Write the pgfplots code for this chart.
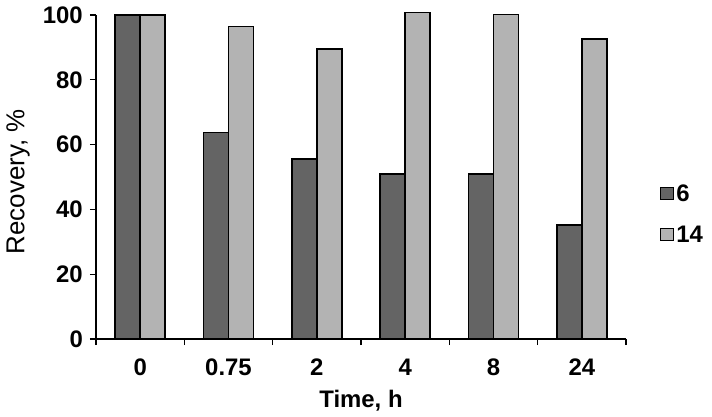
\documentclass[border=0pt]{standalone}
\usepackage{fontspec}
\setmainfont{Liberation Sans}
\usepackage{pgfplots}
\pgfplotsset{compat=1.18}
\definecolor{darkbar}{RGB}{100,100,100}
\definecolor{lightbar}{RGB}{179,179,179}
\begin{document}
\begin{tikzpicture}
\path[use as bounding box] (-96bp,-78bp) rectangle (616bp,339bp);
\begin{axis}[
  at={(0,0)}, anchor=south west,
  scale only axis,
  width=530bp, height=324bp,
  ybar=0pt, bar width=25bp,
  xmin=-0.5, xmax=5.5,
  ymin=0, ymax=100,
  clip=false,
  axis lines*=left,
  axis line style={line width=1.3bp},
  xtick={0,1,2,3,4,5},
  xticklabels={0,0.75,2,4,8,24},
  major x tick style={draw=none},
  minor xtick={-0.5,0.5,1.5,2.5,3.5,4.5,5.5},
  ytick={0,20,40,60,80,100},
  tick align=outside,
  major tick length=6bp, minor tick length=6bp,
  every tick/.style={black, line width=1.3bp},
  /pgf/number format/assume math mode=true,
  tick label style={font=\fontsize{24}{28}\selectfont\bfseries},
  xticklabel style={anchor=center, yshift=-22bp},
  yticklabel style={anchor=east, inner sep=0pt, xshift=-7bp},
  xlabel={Time, h},
  ylabel={Recovery, \%},
  xlabel style={font=\fontsize{24}{28}\selectfont\bfseries, at={(axis description cs:0.5,-0.19)}, anchor=center},
  ylabel style={font=\fontsize{26}{28}\selectfont, at={(axis description cs:-0.147,0.485)}, anchor=center, rotate=0},
  legend style={draw=none, fill=none, at={(axis description cs:1.064,0.385)}, anchor=west,
    font=\fontsize{24}{28}\selectfont\bfseries, row sep=19bp, inner sep=0pt},
  legend cell align=left,
  legend image code/.code={\draw[#1, line width=1.3bp] (0bp,-6bp) rectangle (13bp,6bp);},
]
\addplot[fill=darkbar, draw=black, line width=1.5bp] coordinates {(0,100) (1,63.7) (2,55.6) (3,51.0) (4,51.0) (5,35.2)};
\addlegendentry{6}
\addplot[fill=lightbar, draw=black, line width=1.5bp] coordinates {(0,100) (1,96.4) (2,89.5) (3,100.7) (4,100.1) (5,92.6)};
\addlegendentry{14}
\end{axis}
\end{tikzpicture}
\end{document}
